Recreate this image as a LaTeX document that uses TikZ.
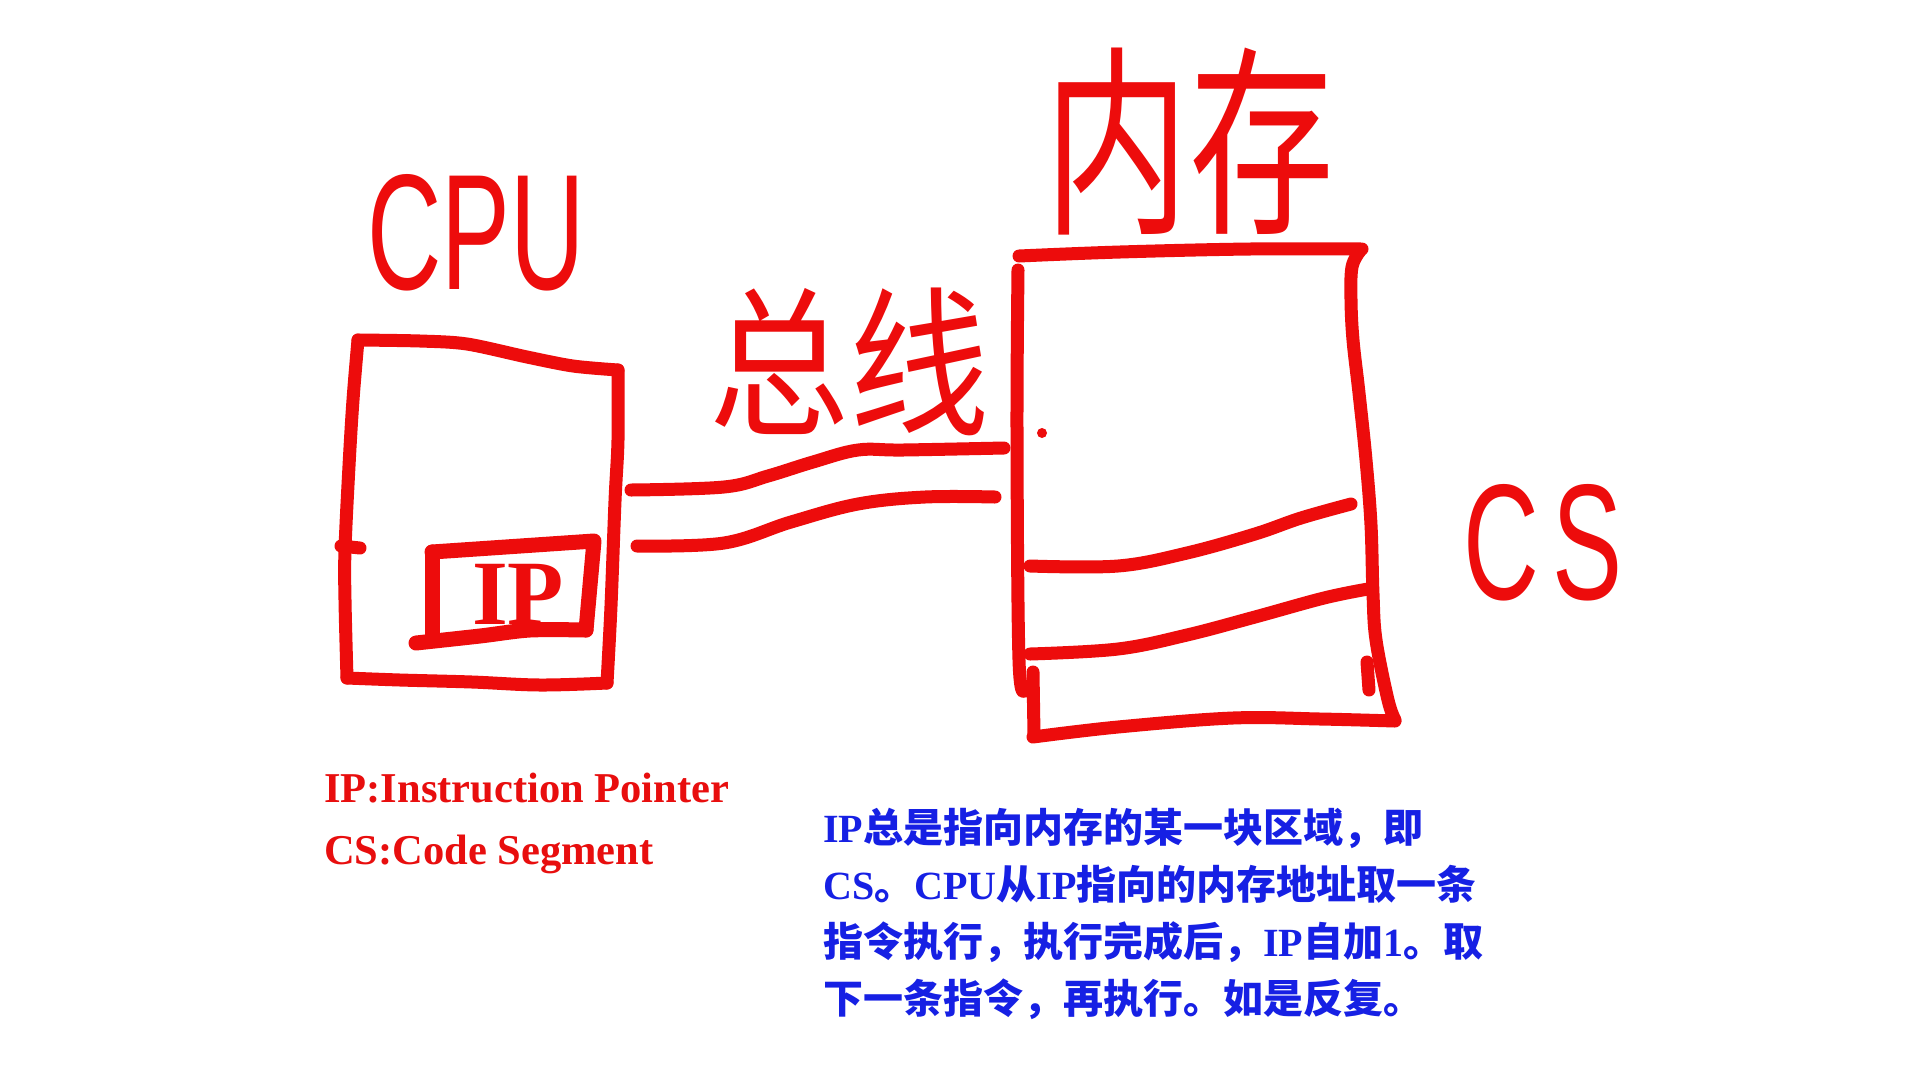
\documentclass[tikz,border=0pt]{standalone}
\usepackage{fontspec}
\setmainfont{Liberation Serif}
\newfontfamily\cjkfont{Noto Sans CJK SC}
\newfontfamily\handsans{Liberation Sans}
\definecolor{hred}{RGB}{237,12,12}
\definecolor{tred}{RGB}{232,14,14}
\definecolor{tblue}{RGB}{22,32,228}
\begin{document}
\begin{tikzpicture}[x=1pt,y=-1pt,
  hand/.style={draw=hred, line width=13pt, line cap=round, line join=round},
  thickhand/.style={hand, line width=15pt},
  handtext/.style={text=hred, inner sep=0pt},
  legend/.style={text=tred, inner sep=0pt, anchor=base west, font=\fontsize{42.5}{50}\selectfont\bfseries}]
\useasboundingbox (0,0) rectangle (1920,1080);
\fill[white] (0,0) rectangle (1920,1080);

% ---------- CPU box ----------
\draw[hand] plot[smooth, tension=0.5] coordinates {(358,340) (420,341) (467,344) (527,357) (573,366) (618,370)};
\draw[hand] plot[smooth, tension=0.6] coordinates {(618,370) (618,440) (615,501) (611,606) (607,683)};
\draw[hand] plot[smooth, tension=0.6] coordinates {(607,683) (540,685) (472,682) (400,680) (347,678)};
\draw[hand] plot[smooth, tension=0.6] coordinates {(347,678) (345,600) (345,550) (349,466) (353,400) (358,340)};
\draw[hand] (341,546) -- (360,548);

% IP register box
\draw[thickhand] (432,552) -- (594,541) -- (586,630);
\draw[thickhand] (432,552) -- (432,640);
\draw[thickhand] plot[smooth, tension=0.5] coordinates {(416,643) (480,636) (530,630) (586,630)};

% ---------- bus ----------
\draw[hand] plot[smooth, tension=0.6] coordinates {(631,490) (724,487) (768,476) (813,462) (858,450) (903,450) (1004,448)};
\draw[hand] plot[smooth, tension=0.6] coordinates {(637,546) (724,543) (791,522) (858,504) (925,497) (995,497)};

% ---------- memory box ----------
\draw[hand] plot[smooth, tension=0.6] coordinates {(1019,256) (1120,252) (1250,249) (1362,249)};
\draw[hand] plot[smooth, tension=0.6] coordinates {(1360,251) (1352,267) (1351,300) (1353,340) (1359,393) (1366,460) (1371,525) (1373,594) (1376,640) (1388,700) (1395,720)};
\draw[hand] plot[smooth, tension=0.6] coordinates {(1395,721) (1320,719) (1233,718) (1118,727) (1033,737)};
\draw[hand] plot[smooth, tension=0.6] coordinates {(1018,270) (1017,433) (1019,660) (1025,690)};
\draw[hand] (1033,672) -- (1034,735);
\draw[hand] (1367,662) -- (1369,690);
\fill[hred] (1042,433) circle (5);

% segment lines inside memory
\draw[hand] plot[smooth, tension=0.6] coordinates {(1030,566) (1118,566) (1187,553) (1255,534) (1301,518) (1351,504)};
\draw[hand] plot[smooth, tension=0.6] coordinates {(1030,654) (1118,649) (1187,635) (1255,617) (1324,598) (1368,589)};

% ---------- hand labels ----------
\node[handtext, font=\handsans] (cpulabel) at (476,233) {\scalebox{1}[1.6]{\fontsize{103}{103}\selectfont CPU}};
\node[handtext] (iplabel) at (518,594) {\fontsize{92}{92}\selectfont\bfseries IP};
\node[handtext] (buslabel) at (849,362) {\scalebox{1}[1.15]{\cjkfont\fontsize{140}{140}\selectfont 总线}};
\node[handtext] (memlabel) at (1189,142) {\scalebox{1}[1.4]{\cjkfont\fontsize{145}{145}\selectfont 内存}};
\node[handtext] (cslabel) at (1543,543) {\scalebox{1}[1.57]{\handsans\fontsize{105}{105}\selectfont C\kern13pt S}};

% ---------- legends ----------
\node[legend] (iplegend) at (324,802) {IP:Instruction Pointer};
\node[legend] (cslegend) at (324,864) {CS:Code Segment};

% ---------- description ----------
\node[anchor=base west, inner sep=0pt, text=tblue] (desc) at (823,842) {\parbox[t]{800pt}{\fontsize{40}{57}\selectfont\cjkfont\bfseries\raggedright
{\rmfamily\bfseries IP}总是指向内存的某一块区域，即\\
{\rmfamily\bfseries CS}。{\rmfamily\bfseries CPU}从{\rmfamily\bfseries IP}指向的内存地址取一条\\
指令执行，执行完成后，{\rmfamily\bfseries IP}自加{\rmfamily\bfseries 1}。取\\
下一条指令，再执行。如是反复。}};
\end{tikzpicture}
\end{document}
